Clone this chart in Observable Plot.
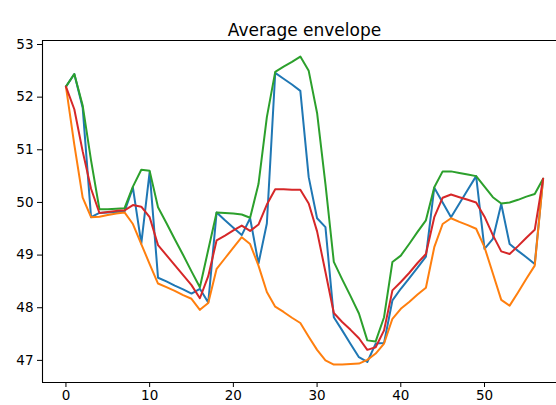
<!DOCTYPE html>
<html><head><meta charset="utf-8">
<script src="https://cdn.jsdelivr.net/npm/d3@7"></script>
<script src="https://cdn.jsdelivr.net/npm/@observablehq/plot@0.6"></script>
<style>body{margin:0;background:#fff;} svg{display:block}</style>
</head><body><div id="chart"></div>
<script>
const xs = [0,1,2,3,4,5,6,7,8,9,10,11,12,13,14,15,16,17,18,19,20,21,22,23,24,25,26,27,28,29,30,31,32,33,34,35,36,37,38,39,40,41,42,43,44,45,46,47,48,49,50,51,52,53,54,55,56,57];
const signal = [52.20,52.44,51.80,49.72,49.80,49.81,49.82,49.83,50.28,49.22,50.58,48.57,48.50,48.42,48.35,48.27,48.36,48.10,49.81,49.66,49.52,49.38,49.70,48.84,49.60,52.46,52.35,52.24,52.12,50.48,49.70,49.53,47.82,47.57,47.31,47.06,46.97,47.32,47.33,48.14,48.36,48.56,48.76,48.97,50.28,50.00,49.72,49.98,50.24,50.50,49.12,49.31,49.97,49.21,49.08,48.96,48.83,50.45];
const lower = [52.20,51.10,50.09,49.72,49.73,49.76,49.79,49.81,49.59,49.21,48.83,48.46,48.39,48.32,48.24,48.17,47.96,48.09,48.74,48.94,49.14,49.34,49.21,48.80,48.30,48.02,47.92,47.81,47.71,47.45,47.20,47.00,46.92,46.92,46.93,46.94,47.01,47.13,47.32,47.79,47.98,48.11,48.25,48.38,49.15,49.59,49.70,49.63,49.57,49.50,49.15,48.65,48.15,48.04,48.29,48.55,48.80,50.45];
const upper = [52.20,52.44,51.84,50.80,49.87,49.87,49.88,49.89,50.30,50.62,50.60,49.91,49.61,49.30,49.00,48.69,48.39,49.10,49.81,49.80,49.79,49.77,49.71,50.35,51.62,52.48,52.58,52.67,52.77,52.50,51.70,50.35,48.87,48.54,48.22,47.89,47.38,47.36,47.82,48.87,48.99,49.21,49.44,49.66,50.29,50.59,50.59,50.56,50.53,50.50,50.30,50.10,49.98,50.00,50.05,50.11,50.16,50.45];
const average = [52.20,51.77,50.97,50.26,49.80,49.82,49.84,49.85,49.95,49.92,49.72,49.19,49.00,48.81,48.62,48.43,48.18,48.60,49.28,49.37,49.47,49.56,49.46,49.58,49.96,50.25,50.25,50.24,50.24,49.98,49.45,48.68,47.90,47.73,47.58,47.42,47.20,47.25,47.57,48.33,48.49,48.66,48.85,49.02,49.72,50.09,50.15,50.10,50.05,50.00,49.73,49.38,49.07,49.02,49.17,49.33,49.48,50.45];
const seriesNames = ["signal","lower","upper","average"];
const seriesColors = ["#1f77b4","#ff7f0e","#2ca02c","#d62728"];
const xTicks = [0,10,20,30,40,50];
const yTicks = [47,48,49,50,51,52,53];
const title = "Average envelope";
const xDomain = [-2.8, 58.6];
const yDomain = [46.58, 53.076];

const valuesBySeries = {signal, lower, upper, average};
const rows = seriesNames.flatMap(name => xs.map((x, i) => ({series: name, x, y: valuesBySeries[name][i]})));

const chart = Plot.plot({
  width: 556, height: 405,
  marginLeft: 42, marginRight: 0, marginTop: 40, marginBottom: 23,
  style: {fontFamily: "DejaVu Sans", fontSize: "13.5px", color: "#000", background: "#fff"},
  x: {domain: xDomain},
  y: {domain: yDomain},
  color: {domain: seriesNames, range: seriesColors},
  marks: [
    Plot.line(rows, {x: "x", y: "y", z: "series", stroke: "series", strokeWidth: 2, strokeLinejoin: "round"}),
    Plot.ruleX([xDomain[0]], {stroke: "#000", strokeWidth: 1.1}),
    Plot.ruleY([yDomain[0], yDomain[1]], {stroke: "#000", strokeWidth: 1.1}),
    Plot.axisX(xTicks, {tickSize: 5, tickPadding: 3, fontSize: 13.5, label: null, stroke: "#000", tickFormat: d => String(d)}),
    Plot.axisY(yTicks, {tickSize: 5, tickPadding: 4, fontSize: 13.5, label: null, stroke: "#000", tickFormat: d => String(d)}),
    Plot.text([title], {frameAnchor: "top", dy: -17, dx: 5, fontSize: 17, fill: "#000"})
  ]
});
document.getElementById("chart").appendChild(chart);
</script>
</body></html>
